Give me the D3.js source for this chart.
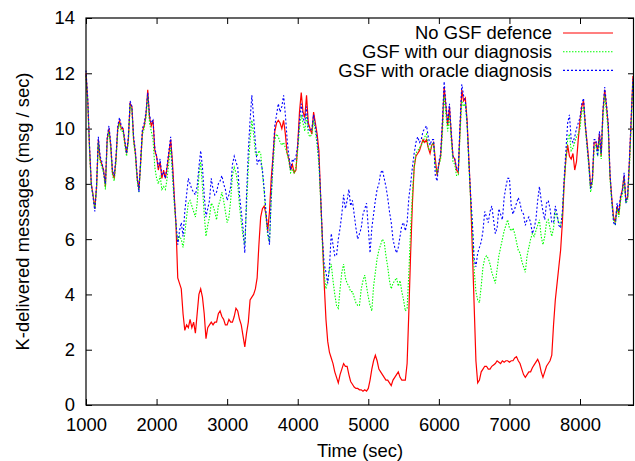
<!DOCTYPE html>
<html>
<head>
<meta charset="utf-8">
<script src="https://cdn.jsdelivr.net/npm/d3@7"></script>
<style>
    body { margin: 0; background: #fff; }
    svg text { font-family: "Liberation Sans", Arial, sans-serif; fill: #000; }
</style>
</head>
<body>
<div id="chart"></div>
<script>
// Muestras cada 25 s, desde t = 1000 s
const tInicio = 1000;
const tPaso = 25;

// No GSF defence
const noDefence = [
    12.0, 11.0, 9.3, 8.0, 7.6, 7.1, 7.9, 9.6, 8.9, 8.7, 8.5, 7.9, 9.6, 10.0, 9.4, 8.4, 8.2, 8.9, 10.0, 10.3,
    10.0, 10.0, 9.5, 9.1, 9.6, 10.9, 10.8, 9.6, 9.1, 8.2, 7.8, 8.8, 9.9, 10.1, 10.5, 11.4, 10.4, 10.1, 10.3, 9.2,
    9.0, 8.5, 8.8, 8.2, 8.5, 8.2, 8.6, 9.1, 9.6, 8.8, 7.6, 6.5, 4.6, 4.4, 4.2, 3.3, 2.7, 2.9, 2.8, 3.1,
    2.8, 3.0, 2.6, 3.3, 4.0, 4.2, 3.9, 3.3, 2.4, 2.8, 2.9, 3.0, 2.9, 3.0, 3.0, 3.3, 3.4, 3.2, 3.1, 2.9,
    2.9, 3.1, 3.0, 3.0, 3.2, 3.5, 3.4, 3.1, 2.9, 2.5, 2.1, 2.6, 3.0, 3.8, 3.9, 4.0, 4.2, 4.6, 5.8, 6.8,
    7.1, 7.2, 6.9, 6.3, 7.0, 8.2, 9.0, 9.9, 10.2, 10.3, 10.2, 10.0, 10.3, 9.8, 9.1, 8.9, 8.5, 8.7, 8.4, 8.5,
    9.4, 10.6, 11.3, 10.6, 10.4, 11.2, 10.2, 10.0, 9.8, 10.6, 10.2, 9.8, 9.2, 7.5, 6.0, 4.4, 3.1, 2.3, 1.9, 1.7,
    1.5, 1.2, 1.0, 0.8, 1.1, 1.3, 1.5, 1.4, 1.4, 1.1, 0.85, 0.75, 0.65, 0.6, 0.6, 0.55, 0.55, 0.5, 0.55, 0.5,
    0.6, 0.9, 1.3, 1.6, 1.8, 1.6, 1.3, 1.2, 1.1, 1.0, 0.9, 0.9, 0.8, 0.7, 0.9, 1.0, 1.1, 1.2, 1.0, 0.9,
    0.9, 0.9, 1.5, 3.4, 5.5, 7.3, 8.6, 9.0, 9.1, 9.2, 9.4, 9.6, 9.5, 9.6, 9.3, 9.1, 9.4, 9.5, 8.9, 8.3,
    8.7, 9.0, 10.1, 11.5, 10.8, 10.1, 10.8, 9.8, 9.0, 8.9, 8.5, 8.4, 10.0, 11.4, 11.0, 11.1, 10.3, 8.9, 7.5, 5.6,
    3.6, 1.6, 0.8, 0.9, 1.2, 1.3, 1.4, 1.4, 1.3, 1.3, 1.4, 1.45, 1.5, 1.6, 1.55, 1.5, 1.6, 1.55, 1.6, 1.6,
    1.55, 1.6, 1.6, 1.7, 1.75, 1.6, 1.5, 1.3, 1.1, 1.0, 1.1, 1.2, 1.2, 1.35, 1.45, 1.55, 1.65, 1.5, 1.2, 1.0,
    1.2, 1.4, 1.5, 1.6, 1.8, 2.9, 3.8, 4.4, 5.0, 5.6, 6.6, 8.0, 8.9, 9.4, 9.0, 8.9, 9.1, 8.5, 8.8, 9.6,
    10.3, 10.8, 11.0, 10.1, 9.5, 8.8, 7.9, 8.1, 9.5, 9.5, 9.2, 9.8, 9.0, 10.6, 11.4, 10.8, 10.1, 8.3, 7.5, 6.8,
    6.6, 7.2, 6.9, 7.5, 7.8, 8.3, 7.4, 7.5, 8.8, 10.3, 11.9
];

// GSF with our diagnosis
const ourDiagnosis = [
    11.9, 10.9, 9.2, 7.9, 7.6, 7.1, 7.8, 9.5, 8.8, 8.6, 8.4, 7.8, 9.5, 9.9, 9.3, 8.3, 8.1, 8.8, 9.9, 10.2,
    9.9, 9.9, 9.4, 9.0, 9.5, 10.8, 10.7, 9.5, 9.0, 8.1, 7.7, 8.7, 9.8, 10.0, 10.4, 11.2, 10.2, 9.9, 9.6, 8.6,
    8.2, 8.0, 8.3, 7.8, 7.9, 7.8, 8.2, 8.8, 9.3, 8.3, 7.3, 6.5, 5.9, 6.1, 6.0, 5.7, 6.2, 6.8, 7.3, 7.4,
    7.2, 7.0, 6.8, 7.3, 8.3, 8.8, 7.9, 6.9, 6.1, 6.5, 6.8, 7.3, 7.2, 7.0, 6.7, 7.2, 7.4, 7.7, 7.4, 7.0,
    6.6, 6.8, 7.4, 8.3, 8.6, 8.4, 8.0, 7.2, 6.6, 6.1, 5.8, 7.2, 8.6, 9.6, 10.3, 9.8, 9.1, 9.0, 9.2, 9.1,
    8.4, 7.7, 6.8, 6.1, 5.9, 7.5, 8.6, 9.6, 9.8, 9.7, 9.5, 9.4, 9.5, 9.3, 9.1, 8.8, 8.4, 8.5, 8.4, 8.6,
    9.2, 10.0, 10.5, 10.2, 9.9, 10.5, 9.8, 9.7, 9.8, 10.3, 9.9, 9.4, 8.7, 7.4, 5.8, 4.7, 4.2, 4.5, 4.9, 5.1,
    4.5, 4.0, 3.6, 3.5, 4.2, 4.8, 5.1, 4.6, 4.4, 4.3, 4.1, 4.1, 3.9, 3.7, 3.6, 3.6, 4.2, 4.5, 4.7, 4.3,
    3.9, 3.6, 3.4, 4.3, 4.8, 5.3, 5.6, 5.8, 6.0, 5.9, 5.4, 5.0, 4.5, 4.2, 4.4, 4.5, 4.6, 4.3, 4.5, 4.1,
    3.8, 3.4, 3.5, 4.8, 6.4, 7.6, 8.6, 9.1, 9.2, 9.3, 9.4, 9.5, 9.7, 9.8, 9.3, 9.2, 9.4, 9.5, 8.6, 8.4,
    8.7, 8.9, 9.8, 11.2, 10.5, 9.9, 10.5, 9.6, 8.8, 8.7, 8.3, 8.3, 9.8, 11.0, 10.8, 10.9, 10.1, 8.7, 7.4, 6.4,
    4.9, 4.1, 3.8, 3.7, 4.3, 5.0, 5.3, 5.4, 5.3, 5.1, 4.8, 4.6, 4.4, 4.9, 5.4, 5.7, 6.0, 6.3, 6.5, 6.7,
    6.4, 6.3, 6.4, 6.2, 5.9, 5.6, 5.5, 5.2, 5.0, 4.8, 5.4, 5.7, 6.0, 6.2, 6.1, 6.3, 6.5, 6.7, 6.1, 5.8,
    6.1, 6.6, 6.7, 6.4, 6.1, 6.4, 7.0, 6.8, 6.6, 6.5, 6.9, 8.0, 8.9, 9.6, 9.8, 9.2, 9.3, 9.5, 9.7, 9.8,
    10.0, 10.6, 10.8, 10.0, 9.3, 8.6, 7.7, 8.0, 9.3, 9.4, 9.0, 9.6, 8.9, 10.4, 11.2, 10.6, 9.9, 8.2, 7.3, 6.7,
    6.5, 7.1, 6.8, 7.4, 7.6, 8.2, 7.3, 7.4, 8.6, 10.1, 11.7
];

// GSF with oracle diagnosis
const oracleDiagnosis = [
    12.1, 11.1, 9.4, 8.0, 7.5, 7.0, 8.0, 9.7, 9.0, 8.8, 8.4, 8.0, 9.7, 10.1, 9.5, 8.5, 8.3, 9.0, 10.1, 10.4,
    10.1, 10.0, 9.6, 9.1, 9.7, 11.0, 10.8, 9.7, 9.2, 8.3, 7.7, 8.9, 10.0, 10.2, 10.6, 11.3, 10.5, 10.2, 10.3, 9.3,
    9.0, 8.6, 8.9, 8.3, 8.4, 8.2, 8.7, 9.2, 9.7, 8.6, 7.5, 6.6, 5.8, 6.3, 6.6, 6.1, 7.0, 7.6, 8.2, 8.0,
    7.8, 7.7, 7.6, 7.9, 8.6, 9.2, 8.6, 7.6, 6.8, 7.1, 7.4, 8.2, 7.8, 7.6, 7.7, 8.0, 8.1, 8.3, 8.0, 7.8,
    7.4, 7.6, 7.9, 8.7, 9.0, 8.8, 8.6, 7.6, 7.0, 6.4, 5.5, 7.6, 9.2, 10.3, 11.2, 10.4, 9.5, 8.7, 8.9, 8.8,
    8.5, 7.8, 7.0, 6.3, 5.8, 7.6, 9.0, 10.1, 10.5, 10.9, 10.6, 10.8, 11.2, 10.5, 9.6, 9.0, 8.5, 8.9, 8.8, 9.0,
    9.4, 10.3, 10.9, 10.4, 10.2, 10.8, 10.0, 9.9, 10.0, 10.5, 10.1, 9.6, 8.9, 7.6, 6.0, 5.1, 4.8, 4.4, 5.0, 6.2,
    5.8, 5.4, 5.4, 6.0, 6.4, 6.9, 7.6, 7.1, 7.4, 7.8, 7.2, 7.4, 6.9, 6.4, 6.0, 6.2, 6.4, 6.9, 7.1, 7.3,
    6.4, 5.5, 6.4, 6.9, 7.4, 7.8, 8.0, 8.4, 8.5, 8.2, 7.9, 7.5, 7.0, 6.6, 6.0, 5.7, 5.5, 5.7, 6.1, 6.5,
    6.6, 6.3, 6.6, 7.5, 8.0, 8.6, 9.1, 9.5, 9.7, 9.5, 9.6, 9.9, 10.0, 10.1, 9.7, 9.4, 9.6, 9.6, 8.3, 8.1,
    8.8, 9.1, 10.3, 11.7, 10.9, 10.2, 10.9, 9.9, 9.0, 8.9, 8.6, 8.5, 10.2, 11.6, 11.2, 11.0, 10.2, 8.8, 7.6, 6.6,
    5.3, 5.0, 5.5, 5.7, 5.9, 6.3, 7.0, 6.8, 6.6, 7.0, 7.2, 6.7, 6.2, 6.4, 7.1, 6.9, 6.7, 7.5, 7.9, 8.2,
    8.2, 7.2, 6.9, 7.1, 7.3, 7.5, 7.3, 7.0, 6.9, 6.5, 6.7, 6.8, 6.6, 6.2, 6.4, 6.7, 7.4, 7.9, 7.4, 7.0,
    6.7, 7.3, 7.4, 7.1, 6.6, 6.6, 7.2, 6.9, 6.5, 6.4, 7.0, 8.2, 9.2, 10.2, 10.5, 9.6, 9.5, 9.7, 10.0, 10.2,
    10.4, 10.9, 11.1, 10.2, 9.4, 8.7, 7.8, 8.2, 9.6, 9.6, 9.0, 9.9, 9.1, 10.7, 11.5, 10.9, 10.2, 8.4, 7.4, 6.6,
    6.5, 7.3, 7.0, 7.6, 7.7, 8.4, 7.3, 7.6, 8.9, 10.4, 11.8
];

const seriesNames = ["No GSF defence", "GSF with our diagnosis", "GSF with oracle diagnosis"];
const seriesColors = ["#ff0000", "#00ff00", "#0000ff"];
const seriesDash = [null, "1.5,1.5", "2,2"];

const xTicks = [1000, 2000, 3000, 4000, 5000, 6000, 7000, 8000];
const yTicks = [0, 2, 4, 6, 8, 10, 12, 14];

// Dimensiones del grafico (estilo gnuplot)
const width = 635;
const height = 461;
const plot = {left: 86, right: 634, top: 18, bottom: 405};
const tickLen = 6;
const fontSize = "18.4px";

const svg = d3.select("#chart")
    .append("svg")
    .attr("width", width)
    .attr("height", height);

const x = d3.scaleLinear().domain([1000, 8765]).range([plot.left, plot.right]);
const y = d3.scaleLinear().domain([0, 14]).range([plot.bottom, plot.top]);

// Ejes: ticks hacia dentro en los cuatro lados
function ejes() {
    const axBottom = d3.axisBottom(x).tickValues(xTicks).tickSize(-tickLen).tickPadding(13).tickFormat(d3.format("d"));
    const axTop = d3.axisTop(x).tickValues(xTicks).tickSize(-tickLen).tickFormat("");
    const axLeft = d3.axisLeft(y).tickValues(yTicks).tickSize(-tickLen).tickPadding(11).tickFormat(d3.format("d"));
    const axRight = d3.axisRight(y).tickValues(yTicks).tickSize(-tickLen).tickFormat("");

    const gB = svg.append("g").attr("transform", `translate(0,${plot.bottom})`).call(axBottom);
    const gT = svg.append("g").attr("transform", `translate(0,${plot.top})`).call(axTop);
    const gL = svg.append("g").attr("transform", `translate(${plot.left},0)`).call(axLeft);
    const gR = svg.append("g").attr("transform", `translate(${plot.right},0)`).call(axRight);

    [gB, gT, gL, gR].forEach(g => {
        g.select(".domain").remove();
        g.selectAll(".tick line").attr("stroke", "#000").attr("stroke-width", 1);
        g.selectAll(".tick text").style("font-size", fontSize).attr("fill", "#000");
    });
}

// Lineas de las series
function series() {
    const datos = [noDefence, ourDiagnosis, oracleDiagnosis];
    const linea = d3.line()
        .x((d, i) => x(tInicio + i * tPaso))
        .y(d => y(d));

    datos.forEach((serie, k) => {
        svg.append("path")
            .datum(serie)
            .attr("fill", "none")
            .attr("stroke", seriesColors[k])
            .attr("stroke-width", k === 0 ? 1.2 : 1.1)
            .attr("stroke-dasharray", seriesDash[k])
            .attr("d", linea);
    });
}

// Leyenda arriba a la derecha
function leyenda() {
    const g = svg.append("g");
    seriesNames.forEach((nombre, k) => {
        const yy = 33 + k * 18.7;
        g.append("text")
            .attr("x", 552)
            .attr("y", yy + 6.3)
            .attr("text-anchor", "end")
            .style("font-size", fontSize)
            .text(nombre);
        g.append("line")
            .attr("x1", 563).attr("x2", 613)
            .attr("y1", yy).attr("y2", yy)
            .attr("stroke", seriesColors[k])
            .attr("stroke-width", 1.1)
            .attr("stroke-dasharray", seriesDash[k]);
    });
}

ejes();
series();
leyenda();

// Marco
svg.append("rect")
    .attr("x", plot.left).attr("y", plot.top)
    .attr("width", plot.right - plot.left - 0.5)
    .attr("height", plot.bottom - plot.top)
    .attr("fill", "none")
    .attr("stroke", "#000")
    .attr("stroke-width", 1.2);

// Titulos de los ejes
svg.append("text")
    .attr("x", (plot.left + plot.right) / 2)
    .attr("y", 457)
    .attr("text-anchor", "middle")
    .style("font-size", fontSize)
    .text("Time (sec)");

svg.append("text")
    .attr("transform", `translate(29,${(plot.top + plot.bottom) / 2}) rotate(-90)`)
    .attr("text-anchor", "middle")
    .style("font-size", fontSize)
    .text("K-delivered messages (msg / sec)");
</script>
</body>
</html>
